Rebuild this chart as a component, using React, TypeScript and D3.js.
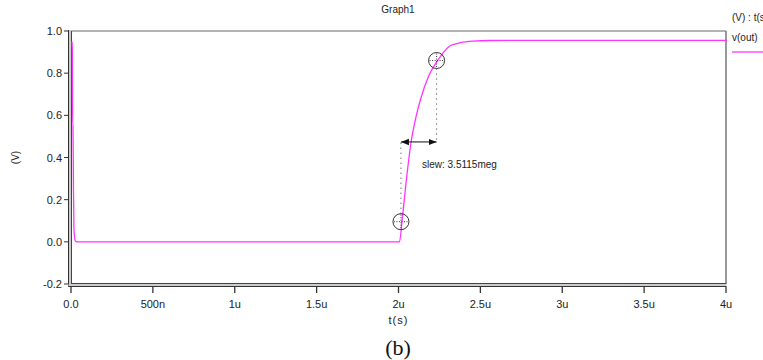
import React from 'react';
import * as d3 from 'd3';

// transient of v(out), time in seconds
const timeS = [
  0, 2e-9, 4e-9, 6e-9, 9e-9, 12e-9, 15e-9, 20e-9, 30e-9,
  2.0e-6, 2.015e-6, 2.04e-6, 2.07e-6, 2.1e-6, 2.13e-6, 2.18e-6, 2.233e-6,
  2.27e-6, 2.31e-6, 2.375e-6, 2.45e-6, 2.55e-6, 3.0e-6, 4.0e-6,
];
const voltage = [
  0.95, 0.91, 0.55, 0.55, 0.24, 0.06, 0.03, 0.005, 0.0,
  0.0, 0.095, 0.28, 0.47, 0.59, 0.68, 0.79, 0.86,
  0.9, 0.93, 0.945, 0.952, 0.955, 0.956, 0.956,
];

const xTicks = [0, 0.5e-6, 1e-6, 1.5e-6, 2e-6, 2.5e-6, 3e-6, 3.5e-6, 4e-6];
const xTickLabels = ['0.0', '500n', '1u', '1.5u', '2u', '2.5u', '3u', '3.5u', '4u'];
const yTicks = [-0.2, 0, 0.2, 0.4, 0.6, 0.8, 1.0];

// slew cursors (10% / 90%)
const cursorA = { t: 2.015e-6, v: 0.0955 };
const cursorB = { t: 2.2326e-6, v: 0.86 };
const slewLabel = 'slew: 3.5115meg';

const W = 763;
const H = 360;
const plot = { left: 71, right: 726, top: 31, bottom: 284 };
const font = 'Liberation Sans, Arial, sans-serif';
const magenta = '#ff33ff';

const x = d3.scaleLinear().domain([0, 4e-6]).range([plot.left, plot.right]);
const y = d3.scaleLinear().domain([-0.2, 1.0]).range([plot.bottom, plot.top]);

const Cursor: React.FC<{ cx: number; cy: number }> = ({ cx, cy }) => (
  <g>
    <circle cx={cx} cy={cy} r={8} fill="none" stroke="#333" strokeWidth={1} />
    <line x1={cx - 7} x2={cx + 7} y1={cy} y2={cy} stroke="#333" strokeWidth={1} strokeDasharray="1,1.5" />
    <line x1={cx} x2={cx} y1={cy - 7} y2={cy + 7} stroke="#333" strokeWidth={1} strokeDasharray="1,1.5" />
  </g>
);

export default function App() {
  const pts = timeS.map((t, i) => [t, voltage[i]] as [number, number]);
  const line = d3
    .line<[number, number]>()
    .x(d => x(d[0]) + 1)
    .y(d => y(d[1]))
    .curve(d3.curveMonotoneX);

  const ax = x(cursorA.t);
  const ay = y(cursorA.v);
  const bx = x(cursorB.t);
  const by = y(cursorB.v);
  const arrowY = y((cursorA.v + cursorB.v) / 2 - 0.004);

  return (
    <svg width={W} height={H} style={{ position: 'absolute', left: 0, top: 0, background: '#fff' }}>
      <defs>
        <marker id="ah" viewBox="0 0 10 10" refX="10" refY="5" markerWidth="8" markerHeight="8" orient="auto-start-reverse">
          <path d="M0,1 L10,5 L0,9 z" fill="#111" />
        </marker>
      </defs>
      <rect width={W} height={H} fill="#fff" />

      <text x={398} y={13} fontFamily={font} fontSize={10} textAnchor="middle" fill="#222">Graph1</text>

      {/* frame */}
      <line x1={plot.left} x2={plot.right} y1={plot.top} y2={plot.top} stroke="#666" strokeWidth={1.2} />
      <line x1={plot.right} x2={plot.right} y1={plot.top} y2={plot.bottom} stroke="#777" strokeWidth={1.5} />

      {/* left axis (double line) */}
      <rect x={plot.left - 2.5} y={plot.top - 1} width={3} height={plot.bottom - plot.top + 4} fill="#ccc" />
      <line x1={plot.left - 2.5} x2={plot.left - 2.5} y1={plot.top - 1} y2={plot.bottom + 3} stroke="#333" strokeWidth={1} />
      <line x1={plot.left + 0.5} x2={plot.left + 0.5} y1={plot.top} y2={plot.bottom + 1} stroke="#444" strokeWidth={1} />
      {yTicks.map(v => (
        <g key={v}>
          <line x1={plot.left - 7} x2={plot.left - 2.5} y1={y(v)} y2={y(v)} stroke="#333" strokeWidth={1} />
          <text x={62} y={y(v) + 4} fontFamily={font} fontSize={11} textAnchor="end" fill="#222">
            {v.toFixed(1)}
          </text>
        </g>
      ))}

      {/* bottom axis (double line) */}
      <rect x={plot.left - 2.5} y={plot.bottom} width={plot.right - plot.left + 3} height={3} fill="#ccc" />
      <line x1={plot.left} x2={plot.right} y1={plot.bottom - 0.5} y2={plot.bottom - 0.5} stroke="#444" strokeWidth={1} />
      <line x1={plot.left - 2.5} x2={plot.right + 0.5} y1={plot.bottom + 2.5} y2={plot.bottom + 2.5} stroke="#333" strokeWidth={1} />
      {xTicks.map((t, i) => (
        <g key={t}>
          <line x1={x(t)} x2={x(t)} y1={plot.bottom + 3} y2={plot.bottom + 9} stroke="#333" strokeWidth={1.3} />
          <text x={x(t)} y={308} fontFamily={font} fontSize={11} textAnchor="middle" fill="#222">
            {xTickLabels[i]}
          </text>
        </g>
      ))}

      {/* curve, drawn over the axis so the start spike shows */}
      <path d={line(pts) ?? ''} fill="none" stroke={magenta} strokeWidth={1.3} />

      <text x={x(2e-6)} y={324} fontFamily={font} fontSize={11} textAnchor="middle" fill="#222" letterSpacing={1}>t(s)</text>
      <text x={0} y={0} transform={`translate(19, ${y(0.4)}) rotate(-90)`} fontFamily={font} fontSize={10} textAnchor="middle" fill="#222">(V)</text>

      {/* slew measurement */}
      <line x1={ax} x2={ax} y1={ay - 8} y2={arrowY} stroke="#333" strokeWidth={1} strokeDasharray="1,4" />
      <line x1={bx} x2={bx} y1={by + 8} y2={arrowY} stroke="#333" strokeWidth={1} strokeDasharray="1,4" />
      <line x1={ax} x2={bx} y1={arrowY} y2={arrowY} stroke="#111" strokeWidth={1} markerStart="url(#ah)" markerEnd="url(#ah)" />
      <text x={422} y={168} fontFamily={font} fontSize={10} fill="#222">{slewLabel}</text>
      <Cursor cx={ax} cy={ay} />
      <Cursor cx={bx} cy={by} />

      {/* legend */}
      <text x={732} y={21} fontFamily={font} fontSize={10} fill="#222">(V) : t(s)</text>
      <text x={732} y={41} fontFamily={font} fontSize={10} fill="#222">v(out)</text>
      <line x1={732} x2={W} y1={52} y2={52} stroke={magenta} strokeWidth={1.3} />

      <text x={398} y={355} fontFamily="Liberation Serif, Times New Roman, serif" fontSize={22} textAnchor="middle" fill="#111">(b)</text>
    </svg>
  );
}
